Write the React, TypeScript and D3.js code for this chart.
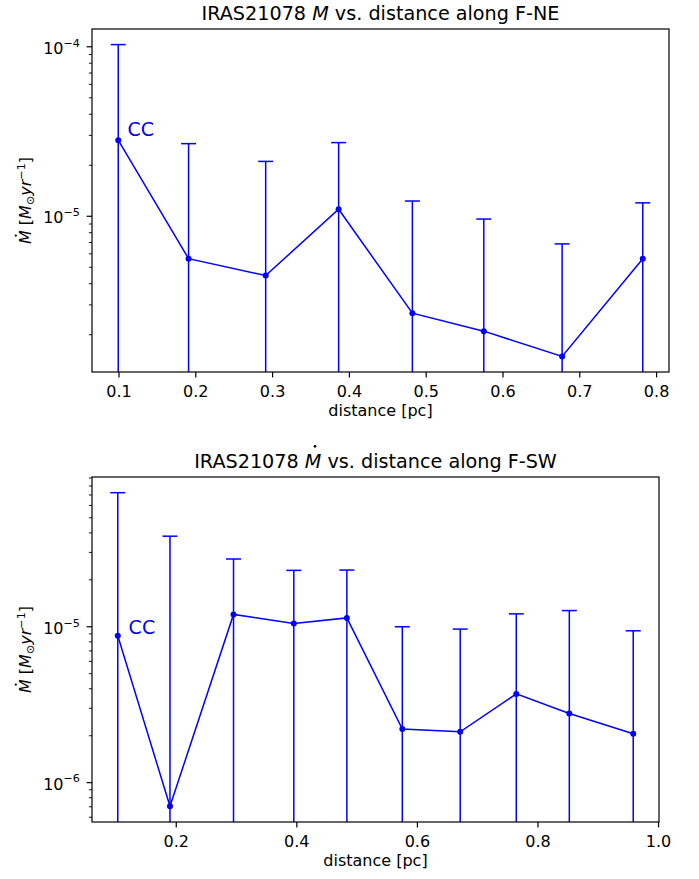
import React, { useEffect, useRef } from 'react';
import * as d3 from 'd3';

const FONT = "'DejaVu Sans', sans-serif";
const BLUE = '#0000ff';

// F-NE filament
const neDistance = [0.099, 0.1906, 0.291, 0.386, 0.482, 0.575, 0.677, 0.782];
const neMdot = [2.81e-5, 5.62e-6, 4.47e-6, 1.10e-5, 2.68e-6, 2.10e-6, 1.49e-6, 5.61e-6];
const neErr = [7.49e-5, 2.12e-5, 1.66e-5, 1.62e-5, 9.62e-6, 7.53e-6, 5.38e-6, 6.39e-6];
const neXTicks = [0.1, 0.2, 0.3, 0.4, 0.5, 0.6, 0.7, 0.8];
const neXTickLabels = ['0.1', '0.2', '0.3', '0.4', '0.5', '0.6', '0.7', '0.8'];
const neAnnotX = [0.111];
const neAnnotY = [2.96e-5];

// F-SW filament
const swDistance = [0.103, 0.1896, 0.295, 0.395, 0.483, 0.575, 0.671, 0.764, 0.852, 0.958];
const swMdot = [8.75e-6, 7.05e-7, 1.2e-5, 1.05e-5, 1.14e-5, 2.21e-6, 2.12e-6, 3.71e-6, 2.78e-6, 2.06e-6];
const swErr = [6.37e-5, 3.74e-5, 1.52e-5, 1.25e-5, 1.17e-5, 7.79e-6, 7.54e-6, 8.39e-6, 9.92e-6, 7.36e-6];
const swXTicks = [0.2, 0.4, 0.6, 0.8, 1.0];
const swXTickLabels = ['0.2', '0.4', '0.6', '0.8', '1.0'];
const swAnnotX = [0.121];
const swAnnotY = [8.92e-6];

const annotLabels = ['CC'];

const TICK_FS = 16;
const TITLE_FS = 19.2;

type Part = { t: string; italic?: boolean; dot?: boolean; shift?: number; small?: boolean };

function mathText(
  parent: any,
  x: number,
  y: number,
  anchor: string,
  parts: Part[],
  size: number,
  rotate: boolean,
  dotGap: number
) {
  const g = parent
    .append('g')
    .attr('transform', `translate(${x},${y})${rotate ? ' rotate(-90)' : ''}`);
  const text = g
    .append('text')
    .attr('text-anchor', anchor)
    .attr('font-size', size)
    .attr('font-family', FONT)
    .attr('fill', '#000');
  let cur = 0;
  let idx = 0;
  const dotIdx: number[] = [];
  parts.forEach((p) => {
    const target = p.shift ?? 0;
    text
      .append('tspan')
      .text(p.t)
      .attr('dy', target - cur)
      .attr('font-size', p.small ? size * 0.7 : size)
      .attr('font-style', p.italic ? 'italic' : 'normal');
    if (p.dot) dotIdx.push(idx);
    idx += p.t.length;
    cur = target;
  });
  const node = text.node() as SVGTextElement;
  dotIdx.forEach((i) => {
    try {
      const s = node.getStartPositionOfChar(i);
      const e = node.getEndPositionOfChar(i);
      g.append('circle')
        .attr('cx', (s.x + e.x) / 2 + size * 0.1)
        .attr('cy', s.y - size * 0.73 - dotGap)
        .attr('r', size * 0.07)
        .attr('fill', '#000');
    } catch (err) {
      /* ignore */
    }
  });
  return g;
}

interface PanelCfg {
  id: string;
  left: number;
  right: number;
  top: number;
  bottom: number;
  xs: number[];
  ys: number[];
  errs: number[];
  xTicks: number[];
  xTickLabels: string[];
  titleEnd: string;
  annX: number[];
  annY: number[];
}

function drawPanel(svg: any, c: PanelCfg) {
  const [x0, x1] = d3.extent(c.xs) as [number, number];
  const xs = x1 - x0;
  const x = d3
    .scaleLinear()
    .domain([x0 - 0.05 * xs, x1 + 0.05 * xs])
    .range([c.left, c.right]);

  const highs = c.ys.map((v, i) => v + c.errs[i]);
  const lows = c.ys.map((v, i) => v - c.errs[i]).filter((v) => v > 0);
  const all = [...c.ys, ...highs, ...lows];
  const lmin = Math.log10(d3.min(all) as number);
  const lmax = Math.log10(d3.max(all) as number);
  const m = 0.05 * (lmax - lmin);
  const y = d3
    .scaleLog()
    .domain([Math.pow(10, lmin - m), Math.pow(10, lmax + m)])
    .range([c.bottom, c.top]);

  const g = svg.append('g');
  g.append('clipPath')
    .attr('id', `clip-${c.id}`)
    .append('rect')
    .attr('x', c.left)
    .attr('y', c.top)
    .attr('width', c.right - c.left)
    .attr('height', c.bottom - c.top);

  const plot = g.append('g').attr('clip-path', `url(#clip-${c.id})`);

  // error bars
  c.xs.forEach((xv, i) => {
    const hi = c.ys[i] + c.errs[i];
    const lo = c.ys[i] - c.errs[i];
    const yHi = y(hi);
    const yLo = lo > 0 ? y(lo) : c.bottom + 5;
    plot
      .append('line')
      .attr('x1', x(xv))
      .attr('x2', x(xv))
      .attr('y1', yHi)
      .attr('y2', yLo)
      .attr('stroke', BLUE)
      .attr('stroke-width', 1.5);
    plot
      .append('line')
      .attr('x1', x(xv) - 7.5)
      .attr('x2', x(xv) + 7.5)
      .attr('y1', yHi)
      .attr('y2', yHi)
      .attr('stroke', BLUE)
      .attr('stroke-width', 1.5);
    if (lo > 0) {
      plot
        .append('line')
        .attr('x1', x(xv) - 7.5)
        .attr('x2', x(xv) + 7.5)
        .attr('y1', yLo)
        .attr('y2', yLo)
        .attr('stroke', BLUE)
        .attr('stroke-width', 1.5);
    }
  });

  const line = d3
    .line<number>()
    .x((_, i) => x(c.xs[i]))
    .y((d) => y(d));
  plot
    .append('path')
    .attr('d', line(c.ys))
    .attr('fill', 'none')
    .attr('stroke', BLUE)
    .attr('stroke-width', 1.5);
  c.ys.forEach((v, i) => {
    plot
      .append('circle')
      .attr('cx', x(c.xs[i]))
      .attr('cy', y(v))
      .attr('r', 3)
      .attr('fill', BLUE);
  });

  // annotation
  c.annX.forEach((ax, i) => {
    g.append('text')
      .attr('x', x(ax))
      .attr('y', y(c.annY[i]))
      .attr('font-family', FONT)
      .attr('font-size', 19)
      .attr('fill', BLUE)
      .text(annotLabels[i]);
  });

  // x ticks
  c.xTicks.forEach((t, i) => {
    g.append('line')
      .attr('x1', x(t))
      .attr('x2', x(t))
      .attr('y1', c.bottom)
      .attr('y2', c.bottom + 5.4)
      .attr('stroke', '#000')
      .attr('stroke-width', 1.2);
    g.append('text')
      .attr('x', x(t))
      .attr('y', c.bottom + 25)
      .attr('text-anchor', 'middle')
      .attr('font-family', FONT)
      .attr('font-size', TICK_FS)
      .attr('fill', '#000')
      .text(c.xTickLabels[i]);
  });

  // y ticks (log)
  const [d0, d1] = y.domain();
  const e0 = Math.floor(Math.log10(d0));
  const e1 = Math.ceil(Math.log10(d1));
  for (let e = e0; e <= e1; e++) {
    for (let k = 1; k <= 9; k++) {
      const v = k * Math.pow(10, e);
      if (v < d0 || v > d1) continue;
      const major = k === 1;
      g.append('line')
        .attr('x1', c.left - (major ? 5.4 : 3.1))
        .attr('x2', c.left)
        .attr('y1', y(v))
        .attr('y2', y(v))
        .attr('stroke', '#000')
        .attr('stroke-width', major ? 1.2 : 0.9);
      if (major) {
        mathText(
          g,
          c.left - 12,
          y(v) + 7,
          'end',
          [{ t: '10' }, { t: `\u2212${Math.abs(e)}`, small: true, shift: -7.2 }],
          TICK_FS,
          false,
          0
        );
      }
    }
  }

  // spines
  g.append('rect')
    .attr('x', c.left)
    .attr('y', c.top)
    .attr('width', c.right - c.left)
    .attr('height', c.bottom - c.top)
    .attr('fill', 'none')
    .attr('stroke', '#000')
    .attr('stroke-width', 1.2);

  // title
  mathText(
    g,
    (c.left + c.right) / 2,
    c.top - 9.5,
    'middle',
    [{ t: 'IRAS21078 ' }, { t: 'M', italic: true, dot: true }, { t: c.titleEnd }],
    TITLE_FS,
    false,
    7.2
  );

  // x label
  g.append('text')
    .attr('x', (c.left + c.right) / 2)
    .attr('y', c.bottom + 44)
    .attr('text-anchor', 'middle')
    .attr('font-family', FONT)
    .attr('font-size', TICK_FS)
    .attr('fill', '#000')
    .text('distance [pc]');

  // y label
  mathText(
    g,
    31,
    (c.top + c.bottom) / 2,
    'middle',
    [
      { t: 'M', italic: true, dot: true },
      { t: ' [' },
      { t: 'M', italic: true },
      { t: '\u2299', small: true, shift: 2.8 },
      { t: 'yr', italic: true },
      { t: '\u22121', small: true, shift: -6.3 },
      { t: ']' },
    ],
    TICK_FS,
    true,
    3.5
  );
}

export default function App() {
  const ref = useRef<SVGSVGElement>(null);
  useEffect(() => {
    const svg = d3.select(ref.current);
    svg.selectAll('*').remove();
    svg.append('rect').attr('width', 699).attr('height', 879).attr('fill', '#fff');
    drawPanel(svg, {
      id: 'ne',
      left: 92,
      right: 669,
      top: 29,
      bottom: 372,
      xs: neDistance,
      ys: neMdot,
      errs: neErr,
      xTicks: neXTicks,
      xTickLabels: neXTickLabels,
      titleEnd: ' vs. distance along F-NE',
      annX: neAnnotX,
      annY: neAnnotY,
    });
    drawPanel(svg, {
      id: 'sw',
      left: 92,
      right: 659,
      top: 477,
      bottom: 822,
      xs: swDistance,
      ys: swMdot,
      errs: swErr,
      xTicks: swXTicks,
      xTickLabels: swXTickLabels,
      titleEnd: ' vs. distance along F-SW',
      annX: swAnnotX,
      annY: swAnnotY,
    });
  }, []);
  return (
    <svg
      ref={ref}
      width={699}
      height={879}
      style={{ position: 'absolute', left: 0, top: 0, display: 'block' }}
    />
  );
}
